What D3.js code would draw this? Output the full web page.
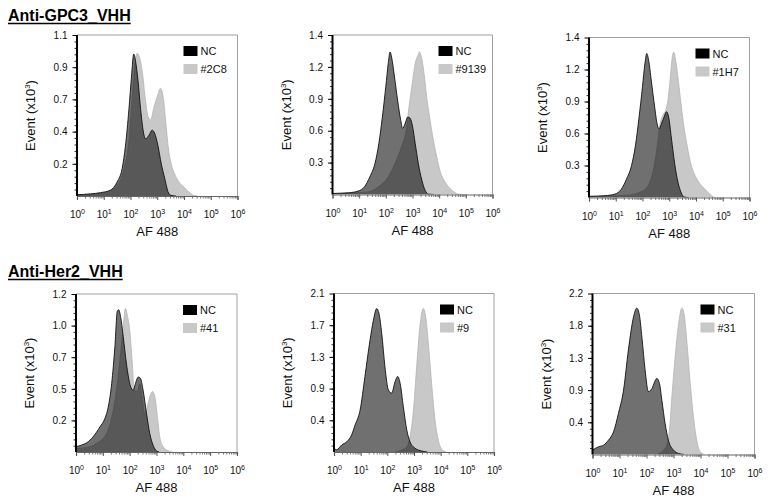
<!DOCTYPE html>
<html><head><meta charset="utf-8">
<script src="https://cdn.jsdelivr.net/npm/d3@7"></script>
<style>
body{margin:0;background:#fff}
svg{display:block}
text{font-family:Arial,"Liberation Sans",sans-serif;fill:#111}
</style>
</head><body>
<svg id="chart" width="770" height="498"></svg>
<script>
// ---------- data ----------
const groupTitles = ["Anti-GPC3_VHH", "Anti-Her2_VHH"];
const controlName = "NC";
const sampleNames = ["#2C8", "#9139", "#1H7", "#41", "#9", "#31"];
const yMaxValues = [1.1, 1.4, 1.4, 1.2, 2.1, 2.2];
const yTickLabels = [
  ["0.2", "0.4", "0.7", "0.9", "1.1"],
  ["0.3", "0.6", "0.9", "1.2", "1.4"],
  ["0.3", "0.6", "0.9", "1.2", "1.4"],
  ["0.2", "0.5", "0.7", "1.0", "1.2"],
  ["0.4", "0.9", "1.3", "1.7", "2.1"],
  ["0.4", "0.9", "1.3", "1.8", "2.2"]
];
const xTickExponents = [0, 1, 2, 3, 4, 5, 6];
const xAxisTitle = "AF 488";
const yAxisTitle = "Event (x10";

// histograms: [log10(AF 488), events x10^3]
const nc_2C8 = [[0.0,0.009],[0.5,0.014],[0.88,0.023],[1.25,0.04],[1.5,0.096],[1.69,0.19],[1.81,0.34],[1.94,0.59],[2.04,0.82],[2.12,0.97],[2.19,0.92],[2.28,0.79],[2.38,0.59],[2.48,0.44],[2.56,0.39],[2.69,0.415],[2.81,0.45],[2.9,0.43],[3.03,0.34],[3.15,0.22],[3.28,0.12],[3.4,0.03],[3.5,0.005],[3.7,0]];
const s_2C8 = [[0.0,0.009],[0.88,0.02],[1.25,0.034],[1.5,0.073],[1.75,0.18],[1.94,0.38],[2.06,0.655],[2.16,0.895],[2.25,0.975],[2.35,0.94],[2.44,0.85],[2.56,0.655],[2.66,0.54],[2.75,0.52],[2.88,0.61],[3.0,0.68],[3.12,0.735],[3.22,0.68],[3.31,0.52],[3.41,0.335],[3.52,0.22],[3.65,0.15],[3.81,0.096],[4.0,0.06],[4.19,0.027],[4.35,0.005],[4.5,0]];
const nc_9139 = [[0.0,0.009],[0.59,0.015],[0.96,0.03],[1.2,0.067],[1.4,0.155],[1.59,0.27],[1.74,0.45],[1.87,0.68],[2.0,0.95],[2.09,1.15],[2.16,1.25],[2.22,1.2],[2.32,1.04],[2.44,0.83],[2.56,0.65],[2.63,0.58],[2.72,0.62],[2.82,0.68],[2.91,0.67],[3.0,0.6],[3.1,0.45],[3.22,0.27],[3.35,0.126],[3.47,0.038],[3.6,0.003],[3.8,0]];
const s_9139 = [[0.0,0.009],[0.84,0.015],[1.34,0.023],[1.72,0.067],[2.09,0.155],[2.34,0.27],[2.59,0.42],[2.78,0.59],[2.87,0.77],[3.0,0.99],[3.1,1.15],[3.2,1.22],[3.26,1.25],[3.35,1.19],[3.45,1.03],[3.53,0.86],[3.66,0.65],[3.78,0.48],[3.91,0.33],[4.03,0.21],[4.22,0.11],[4.41,0.053],[4.6,0.015],[4.72,0.003],[4.9,0]];
const nc_1H7 = [[0.0,0.01],[0.6,0.016],[0.97,0.03],[1.2,0.07],[1.4,0.16],[1.59,0.28],[1.74,0.46],[1.87,0.7],[2.0,0.97],[2.09,1.17],[2.16,1.26],[2.23,1.2],[2.33,1.02],[2.45,0.8],[2.55,0.64],[2.62,0.6],[2.7,0.64],[2.8,0.7],[2.9,0.75],[2.98,0.7],[3.08,0.52],[3.2,0.3],[3.33,0.13],[3.45,0.04],[3.55,0.005],[3.7,0]];
const s_1H7 = [[0.0,0.01],[1.41,0.02],[2.03,0.06],[2.34,0.18],[2.53,0.41],[2.66,0.65],[2.76,0.72],[2.86,0.76],[2.95,0.85],[3.04,1.05],[3.12,1.24],[3.17,1.27],[3.24,1.2],[3.34,1.02],[3.45,0.8],[3.56,0.6],[3.68,0.44],[3.8,0.3],[3.95,0.2],[4.12,0.13],[4.3,0.08],[4.45,0.045],[4.58,0.015],[4.7,0]];
const nc_41 = [[0.0,0.04],[0.21,0.053],[0.4,0.07],[0.64,0.116],[0.89,0.19],[1.08,0.256],[1.2,0.34],[1.33,0.52],[1.45,0.8],[1.54,1.07],[1.59,1.08],[1.66,1.03],[1.76,0.876],[1.88,0.67],[2.03,0.5],[2.13,0.47],[2.23,0.53],[2.32,0.57],[2.4,0.56],[2.5,0.47],[2.63,0.29],[2.75,0.14],[2.87,0.053],[2.97,0.015],[3.1,0]];
const s_41 = [[0.0,0.028],[0.4,0.035],[0.77,0.066],[1.14,0.14],[1.39,0.32],[1.57,0.57],[1.7,0.83],[1.78,1.0],[1.84,1.09],[1.92,1.03],[2.0,0.93],[2.09,0.7],[2.17,0.47],[2.28,0.46],[2.38,0.52],[2.48,0.395],[2.56,0.29],[2.65,0.34],[2.75,0.42],[2.85,0.46],[2.94,0.42],[3.02,0.29],[3.12,0.116],[3.25,0.04],[3.43,0.01],[3.6,0]];
const nc_9 = [[0.0,0.05],[0.1,0.03],[0.29,0.093],[0.48,0.137],[0.66,0.225],[0.79,0.357],[0.98,0.556],[1.16,1.0],[1.35,1.48],[1.48,1.75],[1.6,1.9],[1.69,1.83],[1.79,1.57],[1.91,1.13],[2.04,0.82],[2.16,0.78],[2.29,0.93],[2.39,1.0],[2.48,0.91],[2.6,0.6],[2.73,0.29],[2.85,0.137],[3.04,0.05],[3.29,0.013],[3.5,0]];
const s_9 = [[2.3,0],[2.54,0.026],[2.73,0.07],[2.85,0.2],[2.98,0.556],[3.1,1.13],[3.22,1.66],[3.35,1.9],[3.44,1.79],[3.54,1.43],[3.66,0.91],[3.79,0.42],[3.91,0.16],[4.04,0.035],[4.2,0]];
const nc_31 = [[0.0,0.06],[0.22,0.105],[0.41,0.128],[0.59,0.196],[0.78,0.31],[0.96,0.56],[1.15,0.88],[1.33,1.43],[1.52,1.88],[1.64,2.0],[1.74,1.9],[1.83,1.6],[1.95,1.15],[2.07,0.86],[2.2,0.9],[2.3,0.99],[2.38,1.04],[2.48,0.97],[2.57,0.74],[2.69,0.42],[2.81,0.196],[3.0,0.06],[3.19,0.014],[3.4,0]];
const s_31 = [[2.4,0],[2.63,0.06],[2.75,0.128],[2.85,0.33],[2.94,0.79],[3.06,1.33],[3.19,1.79],[3.31,2.0],[3.4,1.9],[3.49,1.56],[3.62,0.97],[3.74,0.51],[3.86,0.196],[3.99,0.036],[4.15,0]];

const controlSeries = [nc_2C8, nc_9139, nc_1H7, nc_41, nc_9, nc_31];
const sampleSeries = [s_2C8, s_9139, s_1H7, s_41, s_9, s_31];

// ---------- layout ----------
const boxes = [
  {l:77,  r:237.5, t:35,   b:196},
  {l:332.5, r:492.5, t:35, b:194.5},
  {l:589, r:749.5, t:37.5, b:197.5},
  {l:76,  r:237,   t:294,  b:452},
  {l:334, r:494,   t:293.5, b:452},
  {l:592.5, r:754.5, t:293.5, b:454.5}
];
const titlePos = [{x:8, y:21}, {x:8, y:277}];

const svg = d3.select("#chart");
svg.append("rect").attr("width",770).attr("height",498).attr("fill","#fff");

// group titles
titlePos.forEach((p,i) => {
  const t = svg.append("text").attr("x",p.x).attr("y",p.y)
    .attr("font-size",16).attr("font-weight","bold").style("fill","#000").text(groupTitles[i]);
  const w = t.node().getComputedTextLength();
  svg.append("line").attr("x1",p.x).attr("x2",p.x+w).attr("y1",p.y+2.5).attr("y2",p.y+2.5)
    .attr("stroke","#000").attr("stroke-width",1.4);
});

const SAMPLE_FILL = "#c8c8c8";

boxes.forEach((bx, i) => {
  const g = svg.append("g");
  const x = d3.scaleLog().domain([1, 1e6]).range([bx.l, bx.r]);
  const y = d3.scaleLinear().domain([0, yMaxValues[i]]).range([bx.b, bx.t]);
  const xv = d => x(Math.pow(10, d[0]));

  const clipId = "clip" + i;
  svg.append("clipPath").attr("id", clipId).append("rect")
    .attr("x", bx.l).attr("y", bx.t).attr("width", bx.r - bx.l).attr("height", bx.b - bx.t);

  const area = d3.area().x(xv).y0(y(0)).y1(d => y(d[1])).curve(d3.curveMonotoneX);
  const line = d3.line().x(xv).y(d => y(d[1])).curve(d3.curveMonotoneX);

  const plot = g.append("g").attr("clip-path", `url(#${clipId})`);
  plot.append("path").datum(sampleSeries[i]).attr("d", area).attr("fill", SAMPLE_FILL);
  plot.append("path").datum(sampleSeries[i]).attr("d", line).attr("fill","none")
    .attr("stroke","#b4b4b4").attr("stroke-width",0.8);
  plot.append("path").datum(controlSeries[i]).attr("d", area).attr("fill","#000").attr("fill-opacity",0.56);
  plot.append("path").datum(controlSeries[i]).attr("d", line).attr("fill","none")
    .attr("stroke","#111").attr("stroke-width",0.9);

  // frame top & right
  g.append("line").attr("x1",bx.l).attr("x2",bx.r).attr("y1",bx.t).attr("y2",bx.t).attr("stroke","#a0a0a0").attr("stroke-width",1);
  g.append("line").attr("x1",bx.r).attr("x2",bx.r).attr("y1",bx.t).attr("y2",bx.b).attr("stroke","#a0a0a0").attr("stroke-width",1);

  // x axis
  const decades = xTickExponents.map(e => Math.pow(10, e));
  const minorX = [];
  xTickExponents.slice(0, -1).forEach(e => { for (let k = 2; k < 10; k++) minorX.push(k * Math.pow(10, e)); });
  const gxMinor = g.append("g").attr("transform", `translate(0,${bx.b})`)
    .call(d3.axisBottom(x).tickValues(minorX).tickSize(2.5).tickFormat(""));
  gxMinor.select(".domain").remove();
  gxMinor.selectAll("line").attr("stroke","#777");
  const gx = g.append("g").attr("transform", `translate(0,${bx.b})`)
    .call(d3.axisBottom(x).tickValues(decades).tickSize(4).tickPadding(8).tickFormat(""));
  gx.select(".domain").attr("stroke","#666").attr("stroke-width",1.2);
  gx.selectAll("line").attr("stroke","#555");
  gx.selectAll(".tick").append("text")
    .attr("y", 22).attr("text-anchor","middle").attr("font-size",10).style("fill","#111")
    .each(function(d, j) {
      const t = d3.select(this);
      t.append("tspan").text("10");
      t.append("tspan").attr("dy",-4).attr("font-size",7).text(xTickExponents[j]);
    });
  g.append("text").attr("x",(bx.l+bx.r)/2).attr("y",bx.b+40).attr("text-anchor","middle")
    .attr("font-size",13).text(xAxisTitle);

  // y axis
  const ymax = yMaxValues[i];
  const majorY = [1,2,3,4,5].map(k => ymax * k / 5);
  const minorY = d3.range(1, 25).map(k => ymax * k / 25);
  const gyMinor = g.append("g").attr("transform", `translate(${bx.l},0)`)
    .call(d3.axisLeft(y).tickValues(minorY).tickSize(2.5).tickFormat(""));
  gyMinor.select(".domain").remove();
  gyMinor.selectAll("line").attr("stroke","#333");
  const gy = g.append("g").attr("transform", `translate(${bx.l},0)`)
    .call(d3.axisLeft(y).tickValues(majorY).tickSize(4.5).tickPadding(5).tickFormat((d, j) => yTickLabels[i][j]));
  gy.select(".domain").attr("stroke","#000").attr("stroke-width",2).attr("d", `M0,${bx.b}V${bx.t}`);
  gy.selectAll("line").attr("stroke","#000");
  gy.selectAll("text").attr("font-size",10).style("fill","#111").attr("font-family","Arial, 'Liberation Sans', sans-serif");

  const yt = g.append("text").attr("transform", `translate(${bx.l-42},${(bx.t+bx.b)/2}) rotate(-90)`)
    .attr("text-anchor","middle").attr("font-size",13);
  yt.append("tspan").text(yAxisTitle);
  yt.append("tspan").attr("dy",-5).attr("font-size",8).text("3");
  yt.append("tspan").attr("dy",5).text(")");

  // legend
  const lx = bx.r - 54, ly = bx.t + 11;
  g.append("rect").attr("x",lx).attr("y",ly).attr("width",14).attr("height",10).attr("fill","#000");
  g.append("text").attr("x",lx+17).attr("y",ly+9).attr("font-size",11).text(controlName);
  g.append("rect").attr("x",lx).attr("y",ly+18).attr("width",14).attr("height",10).attr("fill",SAMPLE_FILL);
  g.append("text").attr("x",lx+17).attr("y",ly+27).attr("font-size",11).text(sampleNames[i]);
});
</script>
</body></html>
